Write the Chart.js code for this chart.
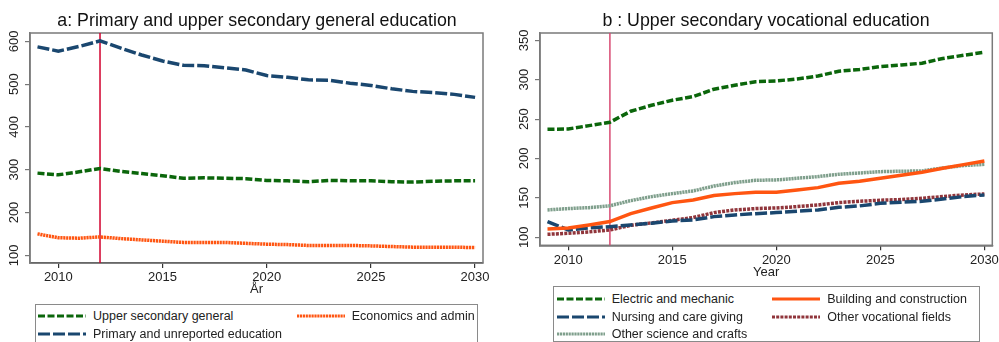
<!DOCTYPE html>
<html lang="en">
  <head>
    <meta charset="UTF-8" />
    <title>Projected demand by field of education</title>
    <script src="https://cdn.jsdelivr.net/npm/chart.js"></script>
    <style>
      *{
        font-family: 'Liberation Sans', Arial, sans-serif;
      }
      body{
        margin: 0;
        width: 999px;
        height: 342px;
        position: relative;
        overflow: hidden;
        background: #fff;
      }
      canvas.panel{
        position: absolute;
        top: 0;
      }
      .title{
        position: absolute;
        top: 9.5px;
        font-size: 17.8px;
        color: #111;
        white-space: nowrap;
        transform: translateX(-50%);
      }
      .legend{
        position: absolute;
        box-sizing: border-box;
        border: 1px solid #8a8a8a;
        display: grid;
        background: #fff;
      }
      .legend .item{
        display: flex;
        align-items: center;
        height: 17.5px;
        font-size: 12.5px;
        color: #222;
        white-space: nowrap;
      }
      .legend .item canvas{
        margin-right: 7px;
      }
    </style>
  </head>
  <body>
    <canvas id="panelA" class="panel" width="500" height="300" style="left:0"></canvas>
    <canvas id="panelB" class="panel" width="499" height="300" style="left:500px"></canvas>

    <div class="title" style="left:257px">a: Primary and upper secondary general education</div>
    <div class="title" style="left:766px">b : Upper secondary vocational education</div>

    <div id="legendA" class="legend" style="left:35px; top:304px; width:443px; height:60px; padding:2.25px 0 0 2px"></div>
    <div id="legendB" class="legend" style="left:553px; top:286px; width:427px; height:56px; padding:3.25px 0 0 2.7px"></div>

    <script>
      const YEARS = [2009, 2010, 2011, 2012, 2013, 2014, 2015, 2016, 2017, 2018, 2019,
                     2020, 2021, 2022, 2023, 2024, 2025, 2026, 2027, 2028, 2029, 2030];
      const X_TICKS = [2010, 2015, 2020, 2025, 2030];
      const REFORM_YEAR = 2012;

      // a: primary and upper secondary general education
      const UPPER_SEC_GENERAL = [292, 288, 295, 303, 296, 291, 286, 280, 281, 280, 279,
                                 275, 274, 272, 275, 274, 274, 272, 271, 273, 274, 274];
      const ECONOMICS_ADMIN = [150, 141, 140, 143, 139, 136, 133, 130, 130, 130, 128,
                               126, 125, 123, 123, 123, 122, 120.5, 119, 119, 119, 118];
      const PRIMARY_UNREPORTED = [587, 577, 588, 601, 584, 568, 554, 544, 543, 538, 533,
                                  520, 516, 510, 509, 502, 497, 489, 483, 480, 476, 469];
      const Y_TICKS_A = [100, 200, 300, 400, 500, 600];

      // b: upper secondary vocational education
      const ELECTRIC_MECHANIC = [237, 237.5, 241.7, 246, 260, 267.5, 274, 278.5, 288, 293, 297.5,
                                 298.4, 301, 304.7, 310.7, 313, 316.6, 318.7, 321, 327, 331, 334.8];
      const BUILDING_CONSTRUCTION = [110.6, 111.8, 115.7, 119.9, 130, 137.2, 144, 147.4, 152.9, 155.4, 157,
                                     157, 160, 163, 168.5, 171, 174.9, 178.7, 182.5, 187.6, 192.2, 196.9];
      const NURSING_CARE = [119.9, 109.3, 111.8, 113.5, 115.7, 117.8, 120.7, 122, 126.2, 128.3, 130,
                            131.3, 133, 134.7, 138, 139.8, 143.1, 144.4, 145.7, 148.6, 151.6, 153.7];
      const OTHER_VOCATIONAL = [103.8, 105, 106.8, 109.3, 115.2, 118.2, 121.6, 125, 131.3, 134.7, 136.4,
                                137.2, 138.9, 141, 144, 145.7, 147, 147.8, 149.5, 151.6, 153.7, 155];
      const OTHER_SCIENCE_CRAFTS = [134.7, 136.4, 137.6, 140, 146.5, 151.6, 155.4, 158.8, 165, 169.4, 172.3,
                                    172.8, 174.9, 177, 180, 181.6, 183.3, 183.8, 184.2, 188, 191, 192.6];
      const Y_TICKS_B = [100, 150, 200, 250, 300, 350];

      const GREEN = '#0b660b';
      const NAVY = '#1a476f';
      const ORANGE = '#ff5511';
      const MAROON = '#90353b';
      const SAGE = '#7f9f8c';

      Chart.defaults.font.family = "'Liberation Sans', Arial, sans-serif";
      Chart.defaults.color = '#222';

      function series(label, values, color, dash) {
        return {
          label: label,
          data: values.map((v, i) => ({ x: YEARS[i], y: v })),
          borderColor: color,
          backgroundColor: color,
          borderWidth: 3.5,
          borderDash: dash,
          borderCapStyle: 'butt',
          pointRadius: 0,
          tension: 0,
        };
      }

      // box round the plot region plus the vertical marker line
      const frameAndMarker = {
        id: 'frameAndMarker',
        beforeDatasetsDraw(chart, args, opts) {
          const { ctx, chartArea: a, scales } = chart;
          const x = scales.x.getPixelForValue(REFORM_YEAR);
          ctx.save();
          ctx.strokeStyle = '#7a7a7a';
          ctx.lineWidth = 1.5;
          ctx.strokeRect(a.left, a.top, a.right - a.left, a.bottom - a.top);
          ctx.strokeStyle = opts.color;
          ctx.lineWidth = 1.5;
          ctx.beginPath();
          ctx.moveTo(x, a.top);
          ctx.lineTo(x, a.bottom);
          ctx.stroke();
          ctx.restore();
        },
      };

      function makePanel(id, datasets, yMin, yMax, yTicks, xTitle, markerColor, padLeft, padRight, padBottom) {
        return new Chart(document.getElementById(id), {
          type: 'line',
          data: { datasets: datasets },
          plugins: [frameAndMarker],
          options: {
            responsive: false,
            animation: false,
            layout: { padding: { top: 33, left: padLeft, right: padRight, bottom: padBottom } },
            plugins: {
              legend: { display: false },
              tooltip: { enabled: false },
              frameAndMarker: { color: markerColor },
            },
            scales: {
              x: {
                type: 'linear',
                min: 2008.64,
                max: 2030.38,
                afterBuildTicks: s => { s.ticks = X_TICKS.map(v => ({ value: v })); },
                afterFit: s => { s.height = 37; s.paddingLeft = 0; s.paddingRight = 0; },
                ticks: { font: { size: 13 }, padding: 2, color: '#222', callback: v => String(v) },
                grid: { drawOnChartArea: false, drawTicks: true, tickLength: 5, color: '#333', lineWidth: 1.2 },
                border: { color: '#333', width: 1.5 },
                title: { display: true, text: xTitle, font: { size: 13 }, color: '#222', padding: { top: 0, bottom: 2.3 } },
              },
              y: {
                min: yMin,
                max: yMax,
                afterBuildTicks: s => { s.ticks = yTicks.map(v => ({ value: v })); },
                afterFit: s => { s.width = 30; },
                ticks: { font: { size: 13 }, padding: 0, color: '#222', minRotation: 90, maxRotation: 90, crossAlign: 'center' },
                grid: { drawOnChartArea: false, drawTicks: true, tickLength: 5, color: '#777', lineWidth: 1.2 },
                border: { color: '#7a7a7a', width: 1.5 },
              },
            },
          },
        });
      }

      function buildLegend(chart, el, colWidth) {
        el.style.gridTemplateColumns = colWidth + 'px auto';
        el.style.gridAutoRows = '17.5px';
        chart.data.datasets.forEach(ds => {
          const item = document.createElement('div');
          item.className = 'item';
          const sample = document.createElement('canvas');
          sample.width = 48;
          sample.height = 6;
          const c = sample.getContext('2d');
          c.strokeStyle = ds.borderColor;
          c.lineWidth = 3;
          c.setLineDash(ds.borderDash || []);
          c.beginPath();
          c.moveTo(0, 3);
          c.lineTo(48, 3);
          c.stroke();
          const text = document.createElement('span');
          text.textContent = ds.label;
          item.appendChild(sample);
          item.appendChild(text);
          el.appendChild(item);
        });
      }

      const chartA = makePanel('panelA', [
        series('Upper secondary general', UPPER_SEC_GENERAL, GREEN, [7, 2.5]),
        series('Economics and admin', ECONOMICS_ADMIN, ORANGE, [2.2, 0.7]),
        series('Primary and unreported education', PRIMARY_UNREPORTED, NAVY, [12, 3]),
      ], 82, 619.4, Y_TICKS_A, 'År', '#d2002d', 0, 17, 0);

      const chartB = makePanel('panelB', [
        series('Electric and mechanic', ELECTRIC_MECHANIC, GREEN, [7, 2.5]),
        series('Building and construction', BUILDING_CONSTRUCTION, ORANGE, []),
        series('Nursing and care giving', NURSING_CARE, NAVY, [12, 3]),
        series('Other vocational fields', OTHER_VOCATIONAL, MAROON, [3, 1.2]),
        series('Other science and crafts', OTHER_SCIENCE_CRAFTS, SAGE, [2.2, 0.7]),
      ], 89.8, 359.3, Y_TICKS_B, 'Year', '#d84a72', 10, 6.7, 17.7);

      buildLegend(chartA, document.getElementById('legendA'), 258.7);
      buildLegend(chartB, document.getElementById('legendB'), 215.6);
    </script>
  </body>
</html>
